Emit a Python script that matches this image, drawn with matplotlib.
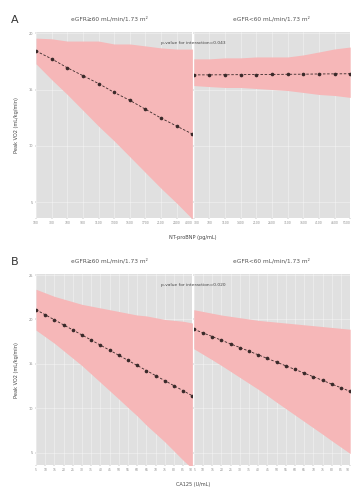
import numpy as np
import matplotlib.pyplot as plt

# === DATA ===
# Panel A: NT-proBNP
a_left_ticks = ["100", "300", "700", "900", "1100", "1300", "1500", "1700", "2100", "2400", "4000"]
a_left_fit = [18.42, 17.72, 16.93, 16.23, 15.53, 14.74, 14.04, 13.25, 12.46, 11.75, 11.05]
a_left_hi = [19.56, 19.5, 19.3, 19.3, 19.3, 19.04, 19.04, 18.87, 18.69, 18.59, 18.59]
a_left_lo = [17.28, 15.88, 14.56, 13.16, 11.75, 10.44, 9.04, 7.63, 6.23, 4.91, 3.51]

a_right_ticks = ["300", "700", "1100", "1400", "2100", "2600", "3100", "3600", "4100", "4600", "5100"]
a_right_fit = [16.3, 16.3, 16.31, 16.32, 16.33, 16.34, 16.35, 16.36, 16.38, 16.39, 16.4]
a_right_hi = [17.72, 17.72, 17.81, 17.81, 17.89, 17.89, 17.89, 18.07, 18.33, 18.6, 18.77]
a_right_lo = [15.35, 15.26, 15.18, 15.18, 15.09, 15.0, 14.91, 14.74, 14.56, 14.47, 14.3]

# Panel B: CA125
b_left_ticks = [str(v) for v in [5, 10, 15, 20, 25, 30, 35, 40, 45, 50, 55, 60, 65, 70, 75, 80, 85, 90]]
b_left_fit = [21.1, 20.53, 19.96, 19.39, 18.82, 18.25, 17.68, 17.11, 16.54, 15.97,
              15.39, 14.82, 14.25, 13.68, 13.11, 12.54, 11.97, 11.4]
b_left_hi = [23.4, 23.0, 22.6, 22.3, 22.0, 21.7, 21.5, 21.3, 21.1, 20.9,
             20.7, 20.5, 20.4, 20.2, 20.0, 19.9, 19.8, 19.6]
b_left_lo = [18.8, 18.06, 17.32, 16.48, 15.64, 14.8, 13.86, 12.92, 11.98, 11.04,
             10.08, 9.14, 8.1, 7.16, 6.22, 5.18, 4.14, 3.2]

b_right_ticks = [str(v) for v in [5, 10, 15, 20, 25, 30, 35, 40, 45, 50, 55, 60, 65, 70, 75, 80, 85, 90]]
b_right_fit = [18.9, 18.49, 18.08, 17.66, 17.25, 16.84, 16.43, 16.02, 15.61, 15.19,
               14.78, 14.37, 13.96, 13.55, 13.14, 12.72, 12.31, 11.9]
b_right_hi = [21.1, 20.9, 20.7, 20.5, 20.35, 20.2, 20.05, 19.9, 19.8, 19.7,
              19.6, 19.5, 19.4, 19.3, 19.2, 19.1, 19.0, 18.9]
b_right_lo = [16.7, 16.08, 15.46, 14.82, 14.15, 13.48, 12.81, 12.14, 11.42, 10.68,
              9.96, 9.24, 8.52, 7.8, 7.08, 6.34, 5.62, 4.9]

strip_titles = ["eGFR\u226560 mL/min/1.73 m\u00b2", "eGFR<60 mL/min/1.73 m\u00b2"]
a_yticks = [5, 10, 15, 20]
b_yticks = [5, 10, 15, 20, 25]

BG = "#e0e0e0"
FILL = "#f6b7b8"
LINE = "#3a2a2a"

fig = plt.figure(figsize=(3.53, 4.87), dpi=100)


def draw_facet(ax, ticks, fit, lo, hi, ylim, yticks, side):
    x = np.arange(len(ticks))
    ax.set_facecolor(BG)
    ax.fill_between(x, lo, hi, color=FILL, lw=0, zorder=1)
    ax.plot(x, fit, ls=(0, (3, 2)), color=LINE, lw=0.6, zorder=2)
    ax.plot(x, fit, "o", color=LINE, ms=1.6, zorder=3)
    ax.set_xlim(0, len(ticks) - 1)
    ax.set_ylim(*ylim)
    ax.set_xticks(x)
    ax.set_xticklabels(ticks, fontsize=2.2, color="#666666")
    # keep the labels at the facet joins and the right edge inside their facet
    labels = ax.get_xticklabels()
    if side == "left":
        labels[-1].set_horizontalalignment("right")
    else:
        labels[0].set_horizontalalignment("left")
        labels[-1].set_horizontalalignment("right")
    ax.set_yticks(yticks)
    if side == "left":
        ax.set_yticklabels([str(v) for v in yticks], fontsize=2.5, color="#666666")
    else:
        ax.set_yticklabels([])
        ax.tick_params(axis="y", length=0)
    ax.grid(True, color="white", lw=0.4, alpha=0.6)
    ax.set_axisbelow(True)
    ax.tick_params(length=1, width=0.3, pad=1, colors="#888888")
    for s in ax.spines.values():
        s.set_visible(False)


def draw_panel(bottom, height, letter, data_l, data_r, ylim, yticks, xlabel, ptext):
    axl = fig.add_axes([0.102, bottom, 0.443, height])
    axr = fig.add_axes([0.549, bottom, 0.443, height])
    draw_facet(axl, *data_l, ylim, yticks, "left")
    draw_facet(axr, *data_r, ylim, yticks, "right")
    top = bottom + height
    fig.text(0.03, top + 0.025, letter, fontsize=8, color="#333333", va="center")
    fig.text(0.31, top + 0.027, strip_titles[0], fontsize=4.2, color="#555555", ha="center", va="center")
    fig.text(0.77, top + 0.027, strip_titles[1], fontsize=4.2, color="#555555", ha="center", va="center")
    fig.text(0.547, top - 0.022, ptext, fontsize=3.2, color="#444444", ha="center", va="center")
    fig.text(0.547, bottom - 0.04, xlabel, fontsize=3.6, color="#444444", ha="center", va="center")
    fig.text(0.048, bottom + height / 2, "Peak VO2 (mL/kg/min)", fontsize=3.6, color="#444444",
             rotation=90, ha="center", va="center")


draw_panel(0.5524, 0.3818, "A",
           (a_left_ticks, a_left_fit, a_left_lo, a_left_hi),
           (a_right_ticks, a_right_fit, a_right_lo, a_right_hi),
           (3.6, 20.1), a_yticks, "NT-proBNP (pg/mL)", "p-value for interaction=0.043")

draw_panel(0.045, 0.392, "B",
           (b_left_ticks, b_left_fit, b_left_lo, b_left_hi),
           (b_right_ticks, b_right_fit, b_right_lo, b_right_hi),
           (3.6, 25.1), b_yticks, "CA125 (U/mL)", "p-value for interaction=0.020")

fig.savefig("out.png", dpi=100, facecolor="white")
